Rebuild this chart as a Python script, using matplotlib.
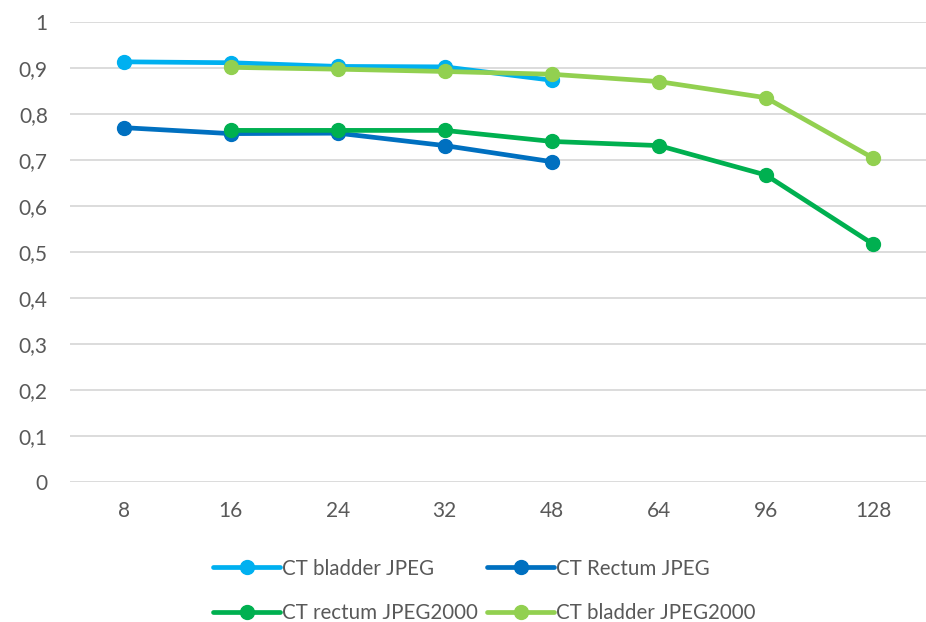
import matplotlib.pyplot as plt
import numpy as np

plt.rcParams['font.family'] = ['Lato', 'DejaVu Sans']

# Data
categories = ['8', '16', '24', '32', '48', '64', '96', '128']
bladder_jpeg = [0.913, 0.911, 0.903, 0.902, 0.873, np.nan, np.nan, np.nan]
rectum_jpeg = [0.770, 0.757, 0.758, 0.731, 0.696, np.nan, np.nan, np.nan]
rectum_j2k = [np.nan, 0.764, 0.764, 0.764, 0.740, 0.731, 0.667, 0.517]
bladder_j2k = [np.nan, 0.901, 0.897, 0.892, 0.886, 0.870, 0.835, 0.704]

series = [
    ('CT bladder JPEG', bladder_jpeg, '#00B0F0'),
    ('CT Rectum JPEG', rectum_jpeg, '#0070C0'),
    ('CT rectum JPEG2000', rectum_j2k, '#00B050'),
    ('CT bladder JPEG2000', bladder_j2k, '#92D050'),
]

fig = plt.figure(figsize=(9.26, 6.22), dpi=100)
ax = fig.add_axes([0.0756, 0.225, 0.925, 0.74])

x = np.arange(len(categories))
handles = []
for label, vals, color in series:
    h, = ax.plot(x, vals, color=color, lw=3.4, marker='o', markersize=10,
                 label=label, solid_capstyle='round')
    handles.append(h)

ax.set_xlim(-0.5, len(categories) - 0.5)
ax.set_ylim(0, 1)
yt = np.arange(0, 1.01, 0.1)
ax.set_yticks(yt)
ax.set_yticklabels(['0'] + [f'{v:.1f}'.replace('.', ',') for v in yt[1:-1]] + ['1'])
ax.set_xticks(x)
ax.set_xticklabels(categories)
ax.tick_params(length=0, labelsize=15, labelcolor='#595959')
ax.tick_params(axis='x', pad=14)
ax.tick_params(axis='y', pad=16)
for s in ax.spines.values():
    s.set_visible(False)
ax.grid(axis='y', color='#D9D9D9', lw=1.3)
ax.set_axisbelow(True)

order = [0, 2, 1, 3]
fig.legend([handles[i] for i in order], [series[i][0] for i in order],
           ncol=2, loc='center', bbox_to_anchor=(0.523, 0.05), frameon=False,
           fontsize=14.8, handlelength=3.3, handletextpad=0.1,
           columnspacing=0.4, labelspacing=1.2, labelcolor='#595959')

fig.savefig('out.png', dpi=100)
